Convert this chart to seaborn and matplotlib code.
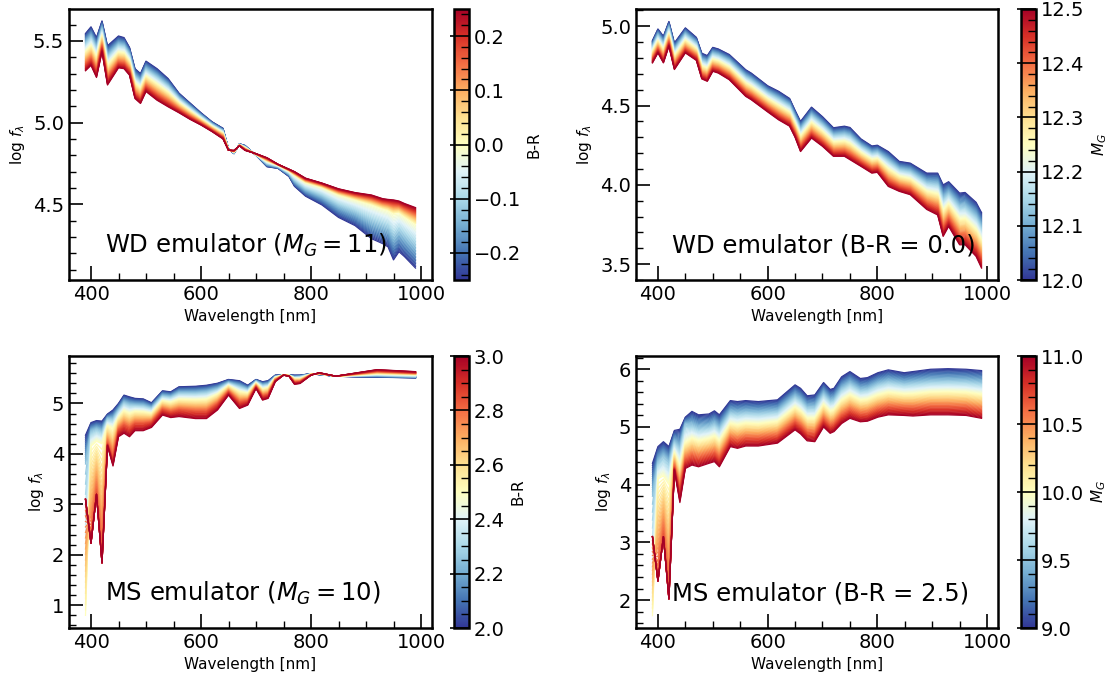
import numpy as np
import pandas as pd
import matplotlib
matplotlib.use("Agg")
import matplotlib.pyplot as plt
import seaborn as sns
from matplotlib.ticker import AutoMinorLocator, MultipleLocator
from matplotlib.colors import Normalize
from matplotlib.cm import ScalarMappable

# ---------------- data ----------------
# Panel 1: WD emulator (M_G = 11), colour = B-R
wl_wd1 = [390, 400, 410, 420, 430, 450, 460, 470, 480, 490, 500, 520, 540, 560, 580,
          600, 620, 640, 650, 660, 670, 680, 700, 720, 740, 760, 770, 790, 820, 850,
          880, 910, 930, 940, 950, 960, 970, 990]
wd1_params = [-0.25, 0.0, 0.25]
wd1_blue = [5.545, 5.586, 5.52, 5.622, 5.47, 5.53, 5.52, 5.46, 5.33, 5.30, 5.376, 5.33,
            5.27, 5.18, 5.12, 5.06, 5.005, 4.965, 4.84, 4.81, 4.87, 4.86, 4.80, 4.73,
            4.72, 4.67, 4.61, 4.55, 4.496, 4.42, 4.37, 4.29, 4.26, 4.24, 4.16, 4.21,
            4.18, 4.11]
wd1_mid = [5.433, 5.47, 5.40, 5.53, 5.35, 5.43, 5.425, 5.375, 5.24, 5.21, 5.283, 5.235,
           5.185, 5.12, 5.07, 5.022, 4.975, 4.935, 4.835, 4.82, 4.864, 4.845, 4.805,
           4.765, 4.74, 4.705, 4.68, 4.635, 4.605, 4.56, 4.53, 4.50, 4.475, 4.465,
           4.445, 4.45, 4.425, 4.38]
wd1_red = [5.317, 5.35, 5.276, 5.433, 5.23, 5.335, 5.33, 5.29, 5.147, 5.117, 5.19, 5.137,
           5.097, 5.06, 5.02, 4.985, 4.945, 4.90, 4.83, 4.83, 4.858, 4.83, 4.81, 4.785,
           4.745, 4.715, 4.70, 4.66, 4.63, 4.595, 4.572, 4.557, 4.535, 4.53, 4.527,
           4.52, 4.505, 4.48]

# Panel 2: WD emulator (B-R = 0.0), colour = M_G
wl_wd2 = [390, 400, 410, 420, 430, 450, 470, 480, 490, 500, 510, 530, 560, 570, 600,
          620, 640, 650, 660, 680, 700, 720, 740, 750, 770, 790, 800, 820, 840, 860,
          890, 910, 920, 930, 950, 960, 980, 990]
wd2_params = [12.0, 12.5]
wd2_blue = [4.91, 4.983, 4.937, 5.03, 4.895, 4.99, 4.93, 4.83, 4.815, 4.867, 4.857,
            4.822, 4.726, 4.705, 4.625, 4.59, 4.545, 4.47, 4.40, 4.49, 4.43, 4.36,
            4.37, 4.362, 4.29, 4.245, 4.25, 4.21, 4.148, 4.137, 4.074, 4.074, 4.0,
            4.02, 3.948, 3.952, 3.89, 3.825]
wd2_red = [4.769, 4.832, 4.769, 4.874, 4.727, 4.832, 4.785, 4.668, 4.653, 4.716, 4.705,
           4.663, 4.558, 4.537, 4.46, 4.41, 4.37, 4.30, 4.21, 4.295, 4.243, 4.18, 4.18,
           4.159, 4.117, 4.074, 4.079, 3.99, 3.959, 3.938, 3.845, 3.81, 3.675, 3.738,
           3.622, 3.622, 3.549, 3.475]

# Panel 3: MS emulator (M_G = 10), colour = B-R
wl_ms3 = [390, 400, 410, 420, 430, 440, 450, 460, 470, 480, 495, 510, 530, 545, 560,
          590, 610, 630, 650, 670, 685, 700, 712, 722, 735, 750, 760, 770, 780, 800,
          815, 845, 885, 920, 990]
ms3_params = [2.0, 2.25, 2.5, 2.85, 3.0]
ms3_a = [4.37, 4.62, 4.66, 4.65, 4.79, 4.87, 5.0, 5.165, 5.13, 5.10, 5.09, 5.013, 5.25,
         5.23, 5.33, 5.34, 5.36, 5.40, 5.475, 5.45, 5.36, 5.475, 5.43, 5.45, 5.56,
         5.567, 5.565, 5.56, 5.56, 5.59, 5.57, 5.54, 5.527, 5.52, 5.507]
ms3_b = [3.8, 4.45, 4.5, 4.45, 4.7, 4.7, 4.87, 5.02, 4.98, 4.97, 4.96, 4.91, 5.15, 5.13,
         5.21, 5.21, 5.23, 5.29, 5.41, 5.34, 5.28, 5.44, 5.36, 5.38, 5.53, 5.565, 5.56,
         5.52, 5.53, 5.585, 5.58, 5.54, 5.545, 5.555, 5.53]
ms3_c = [0.8, 4.15, 4.25, 4.2, 4.55, 4.5, 4.72, 4.85, 4.8, 4.84, 4.83, 4.8, 5.05, 5.02,
         5.08, 5.07, 5.08, 5.18, 5.35, 5.23, 5.2, 5.40, 5.28, 5.31, 5.51, 5.565, 5.555,
         5.49, 5.49, 5.58, 5.59, 5.54, 5.565, 5.59, 5.57]
ms3_d = [3.1, 2.23, 3.2, 1.84, 4.2, 3.9, 4.47, 4.56, 4.50, 4.59, 4.59, 4.62, 4.87, 4.82,
         4.86, 4.83, 4.83, 4.98, 5.227, 5.01, 5.046, 5.333, 5.139, 5.17, 5.456, 5.561,
         5.545, 5.416, 5.428, 5.566, 5.60, 5.54, 5.593, 5.64, 5.605]
ms3_e = [3.1, 2.23, 3.2, 1.84, 4.16, 3.76, 4.34, 4.41, 4.34, 4.46, 4.46, 4.525, 4.77,
         4.72, 4.74, 4.70, 4.70, 4.87, 5.165, 4.90, 4.967, 5.297, 5.066, 5.10, 5.43,
         5.56, 5.54, 5.38, 5.395, 5.56, 5.61, 5.54, 5.61, 5.67, 5.63]

# Panel 4: MS emulator (B-R = 2.5), colour = M_G
wl_ms4 = [390, 400, 410, 420, 430, 440, 450, 462, 474, 493, 503, 512, 532, 545, 560,
          583, 618, 650, 660, 672, 686, 702, 714, 721, 735, 750, 769, 782, 801, 820,
          849, 865, 897, 929, 962, 990]
ms4_params = [9.0, 9.5, 10.0, 10.7, 11.0]
ms4_a = [4.37, 4.66, 4.745, 4.66, 4.94, 4.96, 5.17, 5.27, 5.21, 5.225, 5.28, 5.21,
         5.457, 5.44, 5.457, 5.44, 5.47, 5.73, 5.67, 5.54, 5.555, 5.77, 5.65, 5.67,
         5.87, 5.96, 5.84, 5.855, 5.94, 5.99, 5.94, 5.96, 6.0, 6.01, 6.0, 5.977]
ms4_b = [3.8, 4.4, 4.5, 4.4, 4.75, 4.65, 5.05, 5.04, 4.985, 5.01, 5.06, 4.985, 5.26,
         5.24, 5.26, 5.25, 5.28, 5.535, 5.47, 5.345, 5.35, 5.58, 5.46, 5.48, 5.67,
         5.76, 5.65, 5.665, 5.75, 5.795, 5.755, 5.77, 5.80, 5.81, 5.80, 5.77]
ms4_c = [1.73, 4.1, 4.15, 4.0, 4.55, 4.32, 4.725, 4.805, 4.76, 4.80, 4.84, 4.76, 5.06,
         5.035, 5.065, 5.055, 5.095, 5.34, 5.275, 5.15, 5.15, 5.385, 5.27, 5.295,
         5.465, 5.555, 5.465, 5.48, 5.555, 5.60, 5.57, 5.575, 5.605, 5.61, 5.60, 5.565]
ms4_d = [3.1, 2.33, 3.1, 2.02, 4.3, 3.9, 4.41, 4.48, 4.445, 4.50, 4.53, 4.445, 4.78,
         4.75, 4.79, 4.785, 4.83, 5.07, 5.0, 4.88, 4.87, 5.115, 5.004, 5.03, 5.18,
         5.27, 5.20, 5.21, 5.285, 5.327, 5.31, 5.305, 5.33, 5.33, 5.32, 5.27]
ms4_e = [3.1, 2.33, 3.1, 2.02, 4.25, 3.69, 4.28, 4.34, 4.31, 4.37, 4.40, 4.31, 4.66,
         4.63, 4.67, 4.67, 4.72, 4.95, 4.88, 4.76, 4.745, 5.0, 4.89, 4.92, 5.06, 5.15,
         5.09, 5.10, 5.17, 5.21, 5.20, 5.19, 5.21, 5.21, 5.20, 5.15]

titles = [r"WD emulator ($M_G = 11$)", r"WD emulator (B-R = 0.0)",
          r"MS emulator ($M_G = 10$)", r"MS emulator (B-R = 2.5)"]
cbar_labels = ["B-R", r"$M_G$", "B-R", r"$M_G$"]
cbar_ticks = [[-0.2, -0.1, 0.0, 0.1, 0.2],
              [12.0, 12.1, 12.2, 12.3, 12.4, 12.5],
              [2.0, 2.2, 2.4, 2.6, 2.8, 3.0],
              [9.0, 9.5, 10.0, 10.5, 11.0]]
ylims = [(4.037, 5.695), (3.40, 5.109), (0.55, 5.94), (1.516, 6.23)]
ymajor = [0.5, 0.5, 1.0, 1.0]

panels = [
    (wl_wd1, wd1_params, [wd1_blue, wd1_mid, wd1_red]),
    (wl_wd2, wd2_params, [wd2_blue, wd2_red]),
    (wl_ms3, ms3_params, [ms3_a, ms3_b, ms3_c, ms3_d, ms3_e]),
    (wl_ms4, ms4_params, [ms4_a, ms4_b, ms4_c, ms4_d, ms4_e]),
]

# ---------------- style ----------------
plt.rcParams.update({
    "font.family": ["DejaVu Sans"],
    "axes.linewidth": 1.8,
    "axes.edgecolor": "black",
    "xtick.direction": "in",
    "ytick.direction": "in",
    "xtick.major.size": 10,
    "ytick.major.size": 10,
    "xtick.minor.size": 5,
    "ytick.minor.size": 5,
    "xtick.major.width": 1.2,
    "ytick.major.width": 1.2,
    "xtick.minor.width": 1.0,
    "ytick.minor.width": 1.0,
    "xtick.labelsize": 14,
    "ytick.labelsize": 14,
    "axes.labelsize": 11,
})

fig = plt.figure(figsize=(11.13, 6.79), dpi=100)
W, H = 1113.0, 679.0
ax_rects = [(69, 9, 363, 271), (636, 9, 362, 271), (69, 356, 363, 272), (636, 356, 362, 272)]
cax_x = [454, 1021, 454, 1021]

N_LINES = 61
cmap = "RdYlBu_r"

for i, ((wl, params, anchors), rect) in enumerate(zip(panels, ax_rects)):
    x0, y0, w, h = rect
    ax = fig.add_axes([x0 / W, 1 - (y0 + h) / H, w / W, h / H])
    cax = fig.add_axes([cax_x[i] / W, 1 - (y0 + h) / H, 15 / W, h / H])

    anchors = np.array(anchors, dtype=float)
    pgrid = np.linspace(params[0], params[-1], N_LINES)
    rows = []
    for p in pgrid:
        flux = np.array([np.interp(p, params, anchors[:, j]) for j in range(len(wl))])
        rows.append(pd.DataFrame({"wl": wl, "flux": flux, "p": p}))
    df = pd.concat(rows, ignore_index=True)

    norm = Normalize(params[0], params[-1])
    sns.lineplot(data=df, x="wl", y="flux", hue="p", palette=cmap, hue_norm=norm,
                 estimator=None, legend=False, linewidth=0.9, ax=ax)

    ax.set_xlim(360, 1020)
    ax.set_ylim(*ylims[i])
    ax.xaxis.set_major_locator(MultipleLocator(200))
    ax.xaxis.set_minor_locator(AutoMinorLocator())
    ax.yaxis.set_major_locator(MultipleLocator(ymajor[i]))
    ax.yaxis.set_minor_locator(AutoMinorLocator())
    ax.set_xlabel("Wavelength [nm]")
    ax.set_ylabel(r"log $f_{\lambda}$")
    ax.text(0.1, 0.1, titles[i], transform=ax.transAxes, fontsize=17.5)

    sm = ScalarMappable(norm=norm, cmap=cmap)
    sm.set_array([])
    cb = fig.colorbar(sm, cax=cax)
    cb.set_ticks(cbar_ticks[i])
    cb.minorticks_on()
    cb.ax.tick_params(which="major", direction="in", length=14, width=1.2, labelsize=14)
    cb.ax.tick_params(which="minor", direction="in", length=6, width=1.0)
    cb.outline.set_linewidth(1.8)
    cb.set_label(cbar_labels[i], fontsize=11)

fig.savefig("out.png", dpi=100)
